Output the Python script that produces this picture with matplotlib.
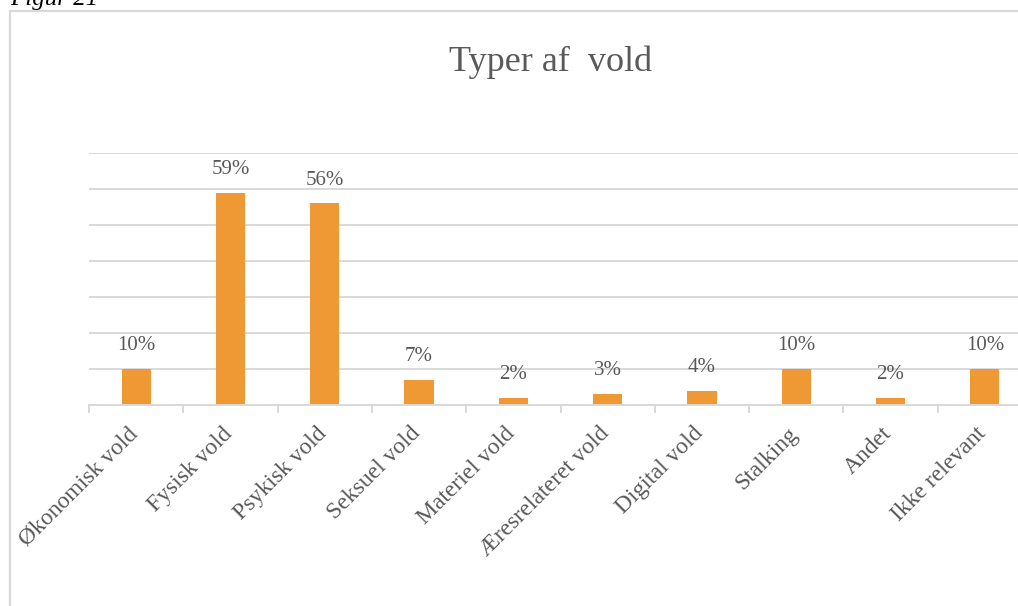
import numpy as np
import matplotlib
matplotlib.use('Agg')
import matplotlib.pyplot as plt
import matplotlib.transforms as mtransforms
from matplotlib.patches import Rectangle
from matplotlib.ticker import MultipleLocator, FixedLocator

categories = ['Økonomisk vold', 'Fysisk vold', 'Psykisk vold', 'Seksuel vold',
              'Materiel vold', 'Æresrelateret vold', 'Digital vold', 'Stalking',
              'Andet', 'Ikke relevant']
values = [10, 59, 56, 7, 2, 3, 4, 10, 2, 10]

plt.rcParams['font.family'] = ['Liberation Serif', 'DejaVu Serif']
text_color = '#595959'
grid_color = '#d9d9d9'
bar_color = '#ee9933'

fig = plt.figure(figsize=(10.18, 6.06), dpi=100)

# outer chart border (runs off the right and bottom edges)
fig.patches.append(Rectangle((10 / 1018, -0.05), 1.2, 1 - 11 / 606 + 0.05,
                             transform=fig.transFigure, fill=False,
                             edgecolor=grid_color, linewidth=1.6))
fig.text(10 / 1018, 1 - 5 / 606, 'Figur 21', fontsize=18, style='italic',
         ha='left', va='baseline', color='black')

ax = fig.add_axes([89 / 1018, 1 - 405 / 606, 943 / 1018, 252 / 606])
x = np.arange(len(categories))
bars = ax.bar(x, values, width=0.31, color=bar_color, zorder=3)

for xi, v in zip(x, values):
    ax.annotate(f'{v}%', (xi, v), xytext=(0, 10), textcoords='offset points',
                ha='center', va='bottom', fontsize=15, color=text_color)

ax.set_xlim(-0.5, len(categories) - 0.5)
ax.set_ylim(0, 70)
ax.yaxis.set_major_locator(MultipleLocator(10))
ax.yaxis.grid(True, color=grid_color, linewidth=1.4, zorder=0)
ax.tick_params(axis='y', left=False, labelleft=False)

for side in ['top', 'right', 'left']:
    ax.spines[side].set_visible(False)
ax.spines['bottom'].set_color(grid_color)
ax.spines['bottom'].set_linewidth(1.4)
ax.spines['bottom'].set_zorder(4)

ax.set_xticks(x)
ax.set_xticklabels(categories, rotation=45, ha='right', va='top',
                   rotation_mode='anchor', fontsize=17, color=text_color)
ax.tick_params(axis='x', which='major', length=0, pad=13)
shift = mtransforms.ScaledTranslation(-9 / 100, 0, fig.dpi_scale_trans)
for lbl in ax.get_xticklabels():
    lbl.set_transform(lbl.get_transform() + shift)
ax.xaxis.set_minor_locator(FixedLocator(np.arange(-0.5, len(categories), 1)))
ax.tick_params(axis='x', which='minor', length=6, width=1.4, color=grid_color)

fig.text(551 / 1018, 1 - 62 / 606, 'Typer af  vold', fontsize=26,
         ha='center', va='center', color=text_color)

plt.savefig('out.png', dpi=100)
